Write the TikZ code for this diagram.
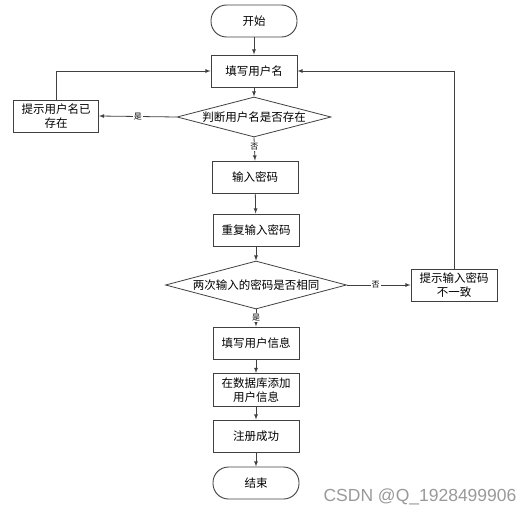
\documentclass[tikz,border=0pt]{standalone}
\usepackage{fontspec}
\setmainfont{Noto Sans CJK SC}
\newfontfamily\wmfont{Liberation Sans}
\usetikzlibrary{shapes.geometric}
\usetikzlibrary{positioning}

\tikzset{
	proc/.style={draw=black!75, line width=0.9pt, minimum width=86pt, minimum height=32pt, inner sep=1pt, align=center, font=\fontsize{11.5}{14.5}\selectfont},
	term/.style={proc, rounded corners=15.5pt},
	decide/.style={draw=black!75, line width=0.8pt, diamond, inner sep=0pt, font=\fontsize{11.5}{14.5}\selectfont},
	flow/.style={->, draw=black!75, line width=0.8pt},
	lbl/.style={fill=white, inner sep=1pt, font=\fontsize{8}{9}\selectfont}
}

\begin{document}
\begin{tikzpicture}[x=1pt, y=-1pt, >=latex]
	\useasboundingbox (0,0) rectangle (532,516);
	\node [term] (start) at (254, 21) {开始};
	\node [proc] (name) at (254, 71) {填写用户名};
	\node [decide, aspect=3.85, minimum width=154pt, minimum height=40pt] (chk1) at (254, 117) {判断用户名是否存在};
	\node [proc, minimum width=85pt] (exist) at (56, 116) {提示用户名已\\存在};
	\node [proc] (pwd) at (255, 177) {输入密码};
	\node [proc] (pwd2) at (256, 230) {重复输入密码};
	\node [decide, aspect=3.77, minimum width=181pt, minimum height=48pt] (chk2) at (256, 285) {两次输入的密码是否相同};
	\node [proc] (diff) at (454, 285) {提示输入密码\\不一致};
	\node [proc] (info) at (256, 343) {填写用户信息};
	\node [proc, minimum height=33pt] (db) at (256, 390) {在数据库添加\\用户信息};
	\node [proc] (ok) at (256, 436) {注册成功};
	\node [term] (end) at (256, 483) {结束};
	\node [text=black!40, font=\wmfont\fontsize{17.5}{20}\selectfont] (mark) at (420, 497) {CSDN @Q\_1928499906};
	\draw [flow] (start) to (name);
	\draw [flow] (name) to (chk1);
	\draw [flow] (chk1.west) to node [lbl] {是} (exist.east);
	\draw [flow] (exist.north) |- (name.west);
	\draw [flow] (chk1.south) to node [lbl, pos=0.4] {否} (pwd.north);
	\draw [flow] (pwd) to (pwd2);
	\draw [flow] (pwd2) to (chk2);
	\draw [flow] (chk2.east) to node [lbl, pos=0.45] {否} (diff.west);
	\draw [flow] (diff.north) |- (name.east);
	\draw [flow] (chk2.south) to node [lbl, pos=0.5] {是} (info.north);
	\draw [flow] (info) to (db);
	\draw [flow] (db) to (ok);
	\draw [flow] (ok) to (end);
\end{tikzpicture}
\end{document}
